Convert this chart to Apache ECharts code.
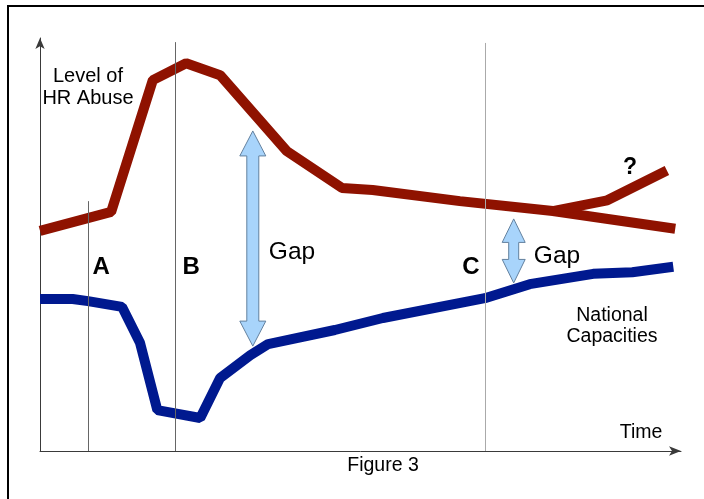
<!DOCTYPE html>
<html>
<head>
<meta charset="utf-8">
<script src="https://cdn.jsdelivr.net/npm/echarts@6/dist/echarts.min.js"></script>
<style>
html, body { margin: 0; padding: 0; background: #fff; }
#chart { width: 704px; height: 499px; }
</style>
</head>
<body>
<div id="chart"></div>
<script>
// time runs 0..100 left to right, level 0..100 bottom to top
const abuseTime = [0, 11.1, 17.6, 22.8, 28.1, 38.5, 47.1, 51.9, 65.5, 80.0, 99.1];
const abuseLevel = [53.3, 57.9, 89.8, 93.9, 91.0, 72.6, 63.7, 63.2, 60.5, 58.1, 53.8];
// the "?" branch
const worseTime = [80.0, 88.5, 97.8];
const worseLevel = [58.1, 60.7, 67.9];
const capTime = [0, 5.1, 7.5, 12.8, 15.6, 18.3, 25.0, 28.1, 32.8, 35.6, 46.0, 53.5, 69.4, 76.4, 86.3, 92.4, 98.8];
const capLevel = [36.8, 36.8, 36.3, 34.9, 26.2, 9.9, 8.0, 17.7, 23.2, 25.9, 29.3, 32.2, 37.0, 40.4, 42.9, 43.3, 44.6];
const phaseNames = ['A', 'B', 'C'];
const phaseTime = [7.5, 21.1, 69.4];
const phaseTop = [60.5, 99.0, 98.8];
const gapTime = [33.2, 73.9];
const gapHigh = [77.5, 56.2];
const gapLow = [25.4, 40.7];

const font = 'Liberation Sans, Arial, sans-serif';
const zip = (xs, ys) => xs.map((x, i) => [x, ys[i]]);

const chart = echarts.init(document.getElementById('chart'));

// double headed arrow between two levels
function gapArrow (params, api) {
    const i = params.dataIndex;
    const top = api.coord([api.value(0), api.value(1)]);
    const bot = api.coord([api.value(0), api.value(2)]);
    const cx = top[0];
    const y1 = top[1];
    const y2 = bot[1];
    const hw = i === 0 ? 13 : 11.5;
    const sw = i === 0 ? 6 : 5;
    const hl = i === 0 ? 25 : 23.5;
    return {
        type: 'polygon',
        shape: {
            points: [
                [cx, y1], [cx + hw, y1 + hl], [cx + sw, y1 + hl], [cx + sw, y2 - hl], [cx + hw, y2 - hl],
                [cx, y2], [cx - hw, y2 - hl], [cx - sw, y2 - hl], [cx - sw, y1 + hl], [cx - hw, y1 + hl]
            ]
        },
        style: { fill: '#a8d4fb', stroke: '#62809e', lineWidth: 1 }
    };
}

const axisBase = {
    type: 'value',
    min: 0,
    max: 100,
    axisTick: { show: false },
    axisLabel: { show: false },
    splitLine: { show: false }
};

const option = {
    animation: false,
    grid: { left: 40, top: 38, right: 23, bottom: 48 },
    xAxis: Object.assign({}, axisBase, {
        axisLine: { show: true, symbol: ['none', 'arrow'], symbolSize: [7, 12], lineStyle: { color: '#3a3a3a', width: 1 } }
    }),
    yAxis: Object.assign({}, axisBase, {
        axisLine: { show: true, symbol: ['none', 'arrow'], symbolSize: [7, 11], lineStyle: { color: '#3a3a3a', width: 1 } }
    }),
    series: [
        {
            type: 'line',
            data: [],
            z: 1,
            markLine: {
                silent: true,
                symbol: ['none', 'none'],
                label: { show: false },
                data: phaseTime.map((t, i) => [
                    { coord: [t, phaseTop[i]], lineStyle: { color: i === 2 ? '#aaa' : '#666', width: 1, type: 'solid' } },
                    { coord: [t, 0] }
                ])
            }
        },
        {
            name: 'HR Abuse',
            type: 'line',
            data: zip(abuseTime, abuseLevel),
            showSymbol: false,
            z: 3,
            lineStyle: { color: '#8f1200', width: 10 }
        },
        {
            name: 'HR Abuse ?',
            type: 'line',
            data: zip(worseTime, worseLevel),
            showSymbol: false,
            z: 3,
            lineStyle: { color: '#8f1200', width: 10 }
        },
        {
            name: 'National Capacities',
            type: 'line',
            data: zip(capTime, capLevel),
            showSymbol: false,
            z: 3,
            lineStyle: { color: '#00198f', width: 10 }
        },
        {
            name: 'Gap',
            type: 'custom',
            renderItem: gapArrow,
            z: 4,
            encode: { x: 0, y: [1, 2] },
            data: gapTime.map((t, i) => [t, gapHigh[i], gapLow[i]])
        }
    ]
};
chart.setOption(option);

function txt (text, x, y, size, extra) {
    return {
        type: 'text',
        z: 10,
        style: Object.assign({
            text: text,
            x: x,
            y: y,
            fontSize: size,
            fontFamily: font,
            fill: '#000',
            align: 'center',
            verticalAlign: 'middle',
            textAlign: 'center',
            textVerticalAlign: 'middle'
        }, extra || {})
    };
}

const phaseShift = [13, 16, -14];
const graphics = [
    // frame
    { type: 'rect', shape: { x: 7, y: 5, width: 697, height: 2 }, style: { fill: '#000' } },
    { type: 'rect', shape: { x: 7, y: 5, width: 2, height: 494 }, style: { fill: '#000' } },
    txt('Level of\nHR Abuse', 88, 87, 20, { lineHeight: 22 }),
    txt('Time', 641, 433, 19.5),
    txt('Figure 3', 383, 466, 19.5),
    txt('National\nCapacities', 612, 326, 19.5, { lineHeight: 21 }),
    txt('Gap', 292, 252, 24.5),
    txt('Gap', 557, 256, 24.5),
    txt('?', 630, 168, 23, { fontWeight: 'bold' })
];
phaseNames.forEach((n, i) => {
    const p = chart.convertToPixel({ gridIndex: 0 }, [phaseTime[i], 0]);
    graphics.push(txt(n, p[0] + phaseShift[i], 267, 24, { fontWeight: 'bold' }));
});
chart.setOption({ graphic: graphics });
</script>
</body>
</html>
